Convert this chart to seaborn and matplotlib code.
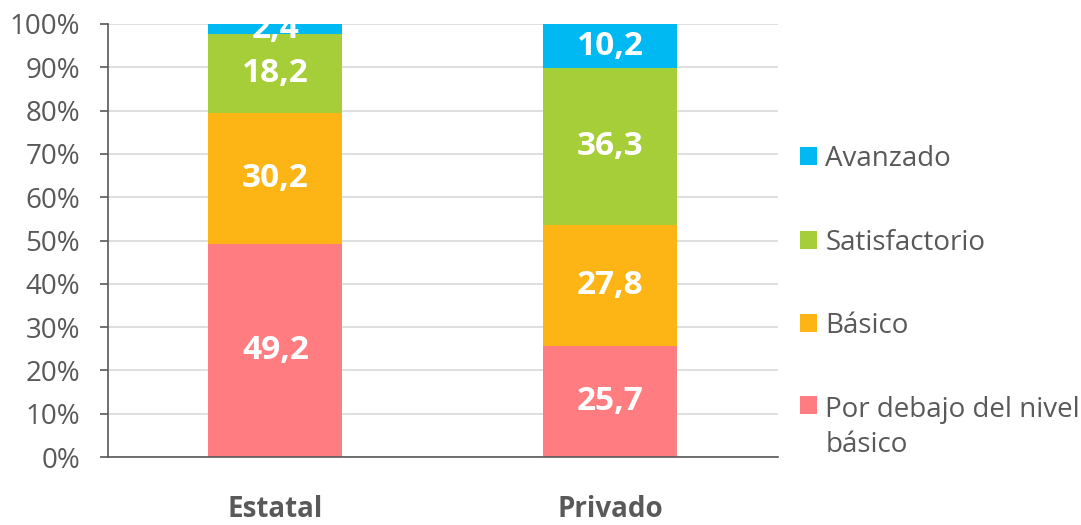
import matplotlib
matplotlib.use("Agg")
import matplotlib.pyplot as plt
import seaborn as sns
import numpy as np
import pandas as pd
from matplotlib.patches import Patch

# Datos
sectores = ["Estatal", "Privado"]
niveles = ["Por debajo del nivel\nbásico", "Básico", "Satisfactorio", "Avanzado"]
por_debajo = [49.2, 25.7]
basico = [30.2, 27.8]
satisfactorio = [18.2, 36.3]
avanzado = [2.4, 10.2]
colores = ["#FF7C80", "#FDB515", "#A6CE39", "#00B9F2"]

sns.set_style("white")
plt.rcParams["font.family"] = ["Open Sans", "DejaVu Sans"]

fig = plt.figure(figsize=(10.81, 5.25), dpi=100)
ax = fig.add_axes([0.0999, 0.1295, 0.6198, 0.8248])

base = np.zeros(len(sectores))
for nivel, valores, color in zip(niveles, [por_debajo, basico, satisfactorio, avanzado], colores):
    df = pd.DataFrame({"sector": sectores, "valor": valores})
    sns.barplot(data=df, x="sector", y="valor", color=color, width=0.4,
                bottom=base, ax=ax, saturation=1, edgecolor="none")
    base = base + np.array(valores)

for cont in ax.containers:
    etiquetas = [f"{b.get_height():.1f}".replace(".", ",") for b in cont]
    ax.bar_label(cont, labels=etiquetas, label_type="center", color="white",
                 fontsize=24, fontweight="bold")

ax.set_ylim(0, 100)
ax.set_xlim(-0.5, 1.5)
ax.set_yticks(np.arange(0, 101, 10))
ax.set_yticklabels([f"{v}%" for v in range(0, 101, 10)])
ax.yaxis.grid(True, color="#D9D9D9", linewidth=1.2)
ax.set_axisbelow(True)

ax.set_xticks([0, 1])
ax.set_xticklabels(sectores, fontweight="bold")
ax.set_xticks([-0.5, 0.5, 1.5], minor=True)
ax.tick_params(axis="x", which="major", length=0, pad=27, labelsize=20, labelcolor="#595959")
ax.tick_params(axis="x", which="minor", length=6, width=1.2, color="#595959", direction="out")
ax.tick_params(axis="y", length=6, width=1.2, color="#595959", labelsize=20,
               labelcolor="#595959", left=True, pad=14)

for lado in ["top", "right"]:
    ax.spines[lado].set_visible(False)
for lado in ["left", "bottom"]:
    ax.spines[lado].set_color("#595959")
    ax.spines[lado].set_linewidth(1.2)

ax.set_xlabel("")
ax.set_ylabel("")

handles = [Patch(facecolor=c, edgecolor="none") for c in colores][::-1]
leg = fig.legend(handles, niveles[::-1], loc="upper left", bbox_to_anchor=(0.727, 0.75),
                 frameon=False, fontsize=20, labelcolor="#595959", handlelength=0.62,
                 handleheight=0.62, handletextpad=0.3, labelspacing=2.0, borderpad=0)
for t in leg.get_texts():
    t.set_linespacing(1.35)

# el cuadrado de la entrada de dos líneas va junto a la primera línea
for col in leg._legend_handle_box.get_children():
    for item in col.get_children():
        if any("\n" in c.get_text() for c in item.get_children() if hasattr(c, "get_text")):
            item.align = "top"

fig.savefig("out.png", dpi=100)
